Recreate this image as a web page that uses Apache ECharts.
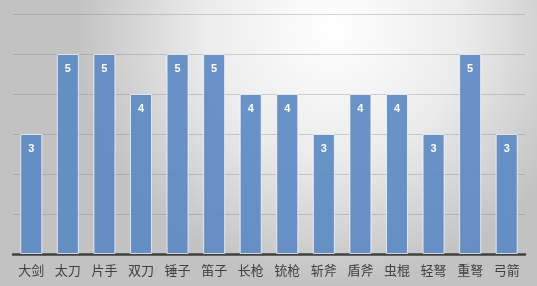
<!DOCTYPE html>
<html><head><meta charset="utf-8">
<script src="https://cdn.jsdelivr.net/npm/echarts@6/dist/echarts.min.js"></script>
<style>html,body{margin:0;padding:0;}#c{width:537px;height:286px;}</style>
</head><body><div id="c"></div>
<script>
const categories = ['大剑','太刀','片手','双刀','锤子','笛子','长枪','铳枪','斩斧','盾斧','虫棍','轻弩','重弩','弓箭'];
const values = [3,5,5,4,5,5,4,4,3,4,4,3,5,3];

const chart = echarts.init(document.getElementById('c'), null, {renderer:'canvas'});
chart.setOption({
  animation:false,
  backgroundColor:{type:'radial',x:0.62,y:0.1,r:0.9,colorStops:[{offset:0,color:'#ffffff'},{offset:0.5,color:'#ececec'},{offset:1,color:'#c2c2c2'}]},
  grid:{left:13,right:12,top:14,bottom:32,containLabel:false},
  xAxis:{type:'category',data:categories,
    axisLine:{lineStyle:{color:'#404040',width:2.5}},
    axisTick:{show:false},
    axisLabel:{color:'#404040',fontSize:13,margin:10,fontFamily:'Noto Sans CJK SC'}},
  yAxis:{type:'value',min:0,max:6,interval:1,
    axisLabel:{show:false},axisLine:{show:false},axisTick:{show:false},
    splitLine:{lineStyle:{color:'rgba(120,120,120,0.3)',width:1}}},
  series:[{type:'bar',data:values,barWidth:22,
    itemStyle:{color:'rgba(92,138,196,0.92)',borderColor:'rgba(255,255,255,0.7)',borderWidth:1},
    label:{show:true,position:'insideTop',distance:9,color:'#ffffff',fontWeight:'bold',fontSize:11,fontFamily:'Liberation Sans'}}]
});
</script></body></html>
